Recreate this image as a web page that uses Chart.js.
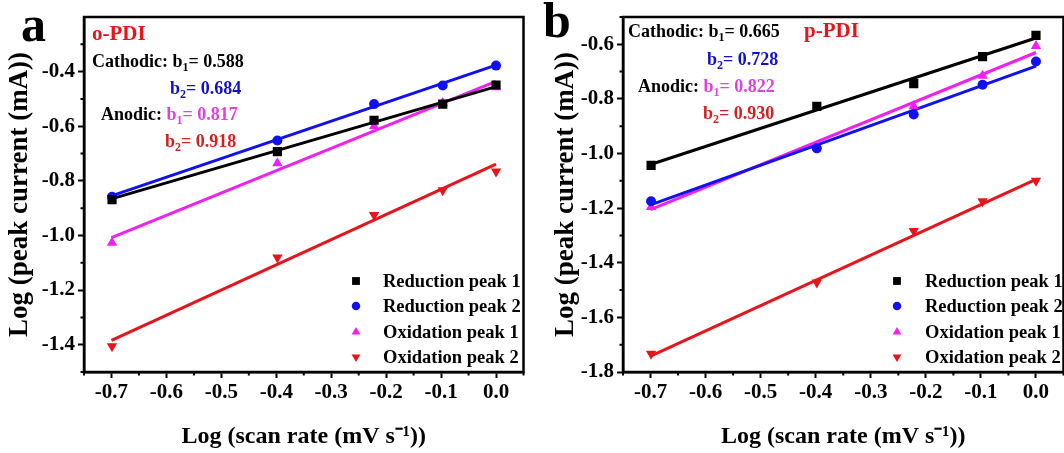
<!DOCTYPE html>
<html>
<head>
<meta charset="utf-8">
<script src="https://cdn.jsdelivr.net/npm/chart.js@4/dist/chart.umd.min.js"></script>
<style>
    html, body { margin: 0; padding: 0; background: #fff; }
    #wrap { position: relative; width: 1064px; height: 453px; overflow: hidden; background: #fff; }
    .painel { position: absolute; top: 0; height: 453px; }
</style>
</head>
<body>
<div id="wrap">
    <div class="painel" style="left:0;width:530px"><canvas id="graficoA"></canvas></div>
    <div class="painel" style="left:530px;width:540px"><canvas id="graficoB"></canvas></div>
</div>
<script>
// log of scan rate (0.2, 0.4, 0.6, 0.8, 1.0 mV/s)
var logScan = [-0.699, -0.398, -0.222, -0.097, 0];
var fitX = [-0.7, 0];

// o-PDI
var oReducao1 = [-0.869, -0.693, -0.578, -0.519, -0.449];
var oReducao2 = [-0.858, -0.652, -0.519, -0.451, -0.378];
var oOxidacao1 = [-1.027, -0.736, -0.600, -0.515, -0.457];
var oOxidacao2 = [-1.406, -1.081, -0.925, -0.834, -0.766];
var oFitReducao1 = [-0.866, -0.455];
var oFitReducao2 = [-0.855, -0.376];
var oFitOxidacao1 = [-1.008, -0.436];
var oFitOxidacao2 = [-1.384, -0.739];

// p-PDI
var pReducao1 = [-1.043, -0.827, -0.744, -0.645, -0.567];
var pReducao2 = [-1.175, -0.981, -0.857, -0.748, -0.663];
var pOxidacao1 = [-1.196, -0.972, -0.827, -0.715, -0.606];
var pOxidacao2 = [-1.733, -1.472, -1.284, -1.175, -1.100];
var pFitReducao1 = [-1.040, -0.577];
var pFitReducao2 = [-1.188, -0.680];
var pFitOxidacao1 = [-1.205, -0.630];
var pFitOxidacao2 = [-1.742, -1.095];

var legendas = ['Reduction peak 1', 'Reduction peak 2', 'Oxidation peak 1', 'Oxidation peak 2'];
var cores = ['#000000', '#1010f0', '#f020f0', '#e8141c'];
var marcadores = [
    { style: 'rect', radius: 6.5, rotation: 0 },
    { style: 'circle', radius: 5, rotation: 0 },
    { style: 'triangle', radius: 6, rotation: 0 },
    { style: 'triangle', radius: 6, rotation: 180 }
];

var FONTE = '"Liberation Serif", "Times New Roman", serif';

function pares(xs, ys) {
    return xs.map(function (x, i) { return { x: x, y: ys[i] }; });
}

function montarDatasets(pontos, ajustes) {
    var ds = [];
    ajustes.forEach(function (a, i) {
        ds.push({
            data: pares(fitX, a),
            showLine: true,
            borderColor: cores[i],
            borderWidth: 3,
            pointRadius: 0,
            order: 2
        });
    });
    pontos.forEach(function (p, i) {
        ds.push({
            data: pares(logScan, p),
            showLine: false,
            pointStyle: marcadores[i].style,
            rotation: marcadores[i].rotation,
            pointRadius: marcadores[i].radius,
            backgroundColor: cores[i],
            borderColor: cores[i],
            borderWidth: 0,
            order: 1
        });
    });
    return ds;
}

function textoRico(ctx, partes, x, y) {
    partes.forEach(function (p) {
        var tam = p.sub ? 12 : (p.size || 18);
        ctx.font = 'bold ' + tam + 'px ' + FONTE;
        ctx.fillStyle = p.c;
        ctx.fillText(p.t, x, y + (p.sub ? 4 : 0));
        x += ctx.measureText(p.t).width;
    });
}

function ehMaior(v, passo) {
    var r = Math.round(v / passo);
    return Math.abs(v / passo - r) < 1e-6;
}

function pluginPainel(cfg) {
    return {
        id: 'painel',
        afterDraw: function (chart) {
            var ctx = chart.ctx;
            var a = chart.chartArea;
            var sx = chart.scales.x, sy = chart.scales.y;
            ctx.save();

            // ticks menores
            ctx.strokeStyle = '#000';
            ctx.lineWidth = 2;
            ctx.beginPath();
            sx.ticks.forEach(function (t) {
                if (ehMaior(t.value, 0.1)) return;
                var px = sx.getPixelForValue(t.value);
                ctx.moveTo(px, a.bottom);
                ctx.lineTo(px, a.bottom + 3.5);
            });
            sy.ticks.forEach(function (t) {
                if (ehMaior(t.value, 0.2)) return;
                var py = sy.getPixelForValue(t.value);
                ctx.moveTo(a.left, py);
                ctx.lineTo(a.left - 3.5, py);
            });
            ctx.stroke();

            ctx.lineWidth = 2.5;
            ctx.strokeRect(a.left, a.top, a.right - a.left, a.bottom - a.top);

            ctx.textBaseline = 'alphabetic';
            ctx.textAlign = 'left';
            cfg.textos.forEach(function (t) { textoRico(ctx, t.partes, t.x, t.y); });

            // legenda
            ctx.textBaseline = 'middle';
            legendas.forEach(function (nome, i) {
                var y = cfg.legY[i];
                ctx.fillStyle = cores[i];
                ctx.strokeStyle = cores[i];
                ctx.lineWidth = 0;
                Chart.helpers.drawPoint(ctx, {
                    pointStyle: marcadores[i].style,
                    rotation: marcadores[i].rotation,
                    radius: marcadores[i].radius * 0.85,
                    borderWidth: 0
                }, cfg.legX, y);
                ctx.fillStyle = '#000';
                ctx.font = 'bold 18.5px ' + FONTE;
                ctx.fillText(nome, cfg.legTextoX, y + 1);
            });
            ctx.restore();
        }
    };
}

function rotuloX(v) {
    var r = Math.round(v * 10);
    if (Math.abs(v * 10 - r) > 1e-6) return '';
    return (r / 10).toFixed(1);
}

function criarGrafico(id, cfg) {
    var ctx = document.getElementById(id).getContext('2d');
    return new Chart(ctx, {
        type: 'scatter',
        data: { datasets: montarDatasets(cfg.pontos, cfg.ajustes) },
        options: {
            responsive: true,
            maintainAspectRatio: false,
            animation: false,
            layout: { padding: { top: 17, right: cfg.padDireita, bottom: 0, left: 0 } },
            plugins: { legend: { display: false }, tooltip: { enabled: false } },
            scales: {
                x: {
                    type: 'linear',
                    min: -0.75,
                    max: 0.05,
                    ticks: {
                        stepSize: 0.05,
                        color: '#000',
                        font: { family: FONTE, size: 21, weight: 'bold' },
                        padding: 2,
                        maxRotation: 0,
                        autoSkip: false,
                        callback: rotuloX
                    },
                    grid: {
                        drawOnChartArea: false, drawTicks: true, tickLength: 6, tickWidth: 2,
                        tickColor: function (c) { return c.tick && ehMaior(c.tick.value, 0.1) ? '#000' : 'rgba(0,0,0,0)'; }
                    },
                    border: { display: true, color: '#000', width: 2.5 },
                    title: {
                        display: true,
                        text: 'Log (scan rate (mV s\u207B\u00B9))',
                        color: '#000',
                        font: { family: FONTE, size: 24, weight: 'bold' },
                        padding: { top: 0, bottom: 2 }
                    },
                    afterFit: function (s) { s.height = 81; }
                },
                y: {
                    type: 'linear',
                    min: cfg.yMin,
                    max: cfg.yMax,
                    ticks: {
                        stepSize: 0.1,
                        color: '#000',
                        font: { family: FONTE, size: 21, weight: 'bold' },
                        padding: 3,
                        autoSkip: false,
                        callback: function (v) {
                            var r = Math.round(v * 10);
                            if (Math.abs(v * 10 - r) > 1e-6 || r % 2 !== 0) return '';
                            if (Math.abs(v - cfg.yMax) < 1e-6) return '';
                            return (r / 10).toFixed(1);
                        }
                    },
                    grid: {
                        drawOnChartArea: false, drawTicks: true, tickLength: 6, tickWidth: 2,
                        tickColor: function (c) {
                            if (!c.tick || Math.abs(c.tick.value - cfg.yMax) < 1e-6) return 'rgba(0,0,0,0)';
                            return ehMaior(c.tick.value, 0.2) ? '#000' : 'rgba(0,0,0,0)';
                        }
                    },
                    border: { display: true, color: '#000', width: 2.5 },
                    title: {
                        display: true,
                        text: 'Log (peak current (mA))',
                        color: '#000',
                        font: { family: FONTE, size: 27, weight: 'bold' },
                        padding: { top: cfg.tituloY, bottom: 0 }
                    },
                    afterFit: function (s) { s.width = cfg.larguraY; }
                }
            }
        },
        plugins: [pluginPainel(cfg)]
    });
}

document.addEventListener('DOMContentLoaded', function () {
    criarGrafico('graficoA', {
        pontos: [oReducao1, oReducao2, oOxidacao1, oOxidacao2],
        ajustes: [oFitReducao1, oFitReducao2, oFitOxidacao1, oFitOxidacao2],
        yMin: -1.5, yMax: -0.2,
        larguraY: 84, padDireita: 3, tituloY: 4,
        legX: 356, legTextoX: 383, legY: [281, 306, 332, 357],
        textos: [
            { x: 21, y: 41, partes: [{ t: 'a', c: '#000', size: 50 }] },
            { x: 92, y: 40, partes: [{ t: 'o-PDI', c: '#e8141c', size: 21 }] },
            { x: 92, y: 67, partes: [{ t: 'Cathodic: b', c: '#000' }, { t: '1', c: '#000', sub: true }, { t: '= 0.588', c: '#000' }] },
            { x: 170, y: 94, partes: [{ t: 'b', c: '#1010c8' }, { t: '2', c: '#1010c8', sub: true }, { t: '= 0.684', c: '#1010c8' }] },
            { x: 101, y: 120, partes: [{ t: 'Anodic: ', c: '#000' }, { t: 'b', c: '#e040e0' }, { t: '1', c: '#e040e0', sub: true }, { t: '= 0.817', c: '#e040e0' }] },
            { x: 165, y: 147, partes: [{ t: 'b', c: '#d42020' }, { t: '2', c: '#d42020', sub: true }, { t: '= 0.918', c: '#d42020' }] }
        ]
    });

    criarGrafico('graficoB', {
        pontos: [pReducao1, pReducao2, pOxidacao1, pOxidacao2],
        ajustes: [pFitReducao1, pFitReducao2, pFitOxidacao1, pFitOxidacao2],
        yMin: -1.8, yMax: -0.5,
        larguraY: 93, padDireita: 3, tituloY: 20,
        legX: 367, legTextoX: 395, legY: [281, 306, 332, 357],
        textos: [
            { x: 13, y: 37, partes: [{ t: 'b', c: '#000', size: 50 }] },
            { x: 98, y: 37, partes: [{ t: 'Cathodic: b', c: '#000' }, { t: '1', c: '#000', sub: true }, { t: '= 0.665', c: '#000' }] },
            { x: 274, y: 37, partes: [{ t: 'p-PDI', c: '#e8141c', size: 21 }] },
            { x: 177, y: 65, partes: [{ t: 'b', c: '#1010c8' }, { t: '2', c: '#1010c8', sub: true }, { t: '= 0.728', c: '#1010c8' }] },
            { x: 108, y: 92, partes: [{ t: 'Anodic: ', c: '#000' }, { t: 'b', c: '#e040e0' }, { t: '1', c: '#e040e0', sub: true }, { t: '= 0.822', c: '#e040e0' }] },
            { x: 173, y: 119, partes: [{ t: 'b', c: '#d42020' }, { t: '2', c: '#d42020', sub: true }, { t: '= 0.930', c: '#d42020' }] }
        ]
    });
});
</script>
</body>
</html>
